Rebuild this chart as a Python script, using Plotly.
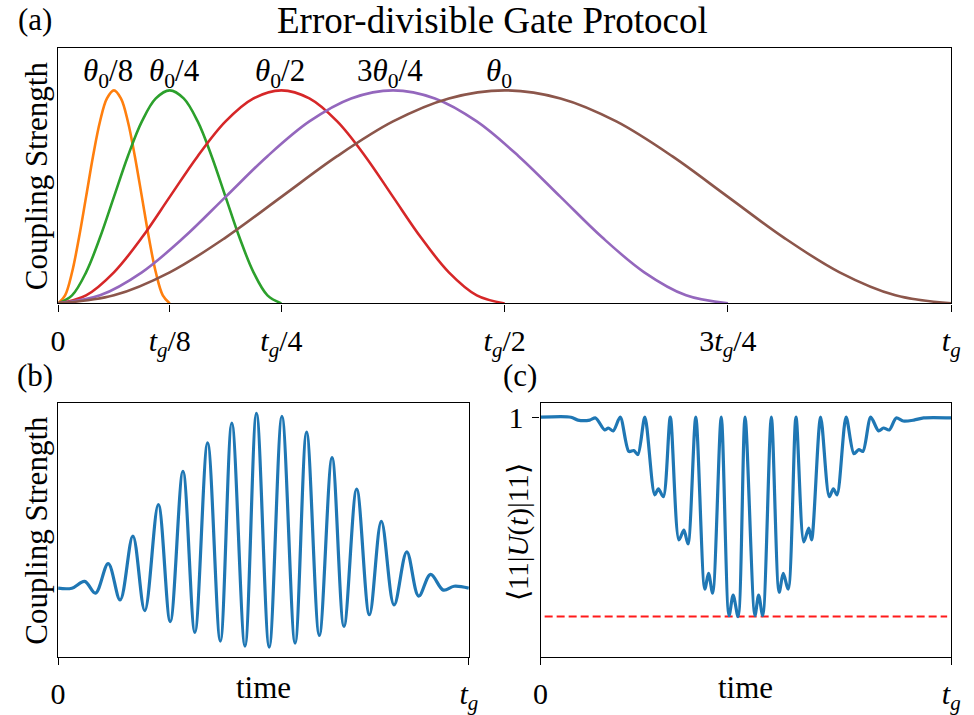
import plotly.graph_objects as go

# ---------------- data ----------------
# panel (a): pulse profiles (time in units of t_g, normalised coupling)
pulse_y = [0.0, 0.038, 0.146, 0.309, 0.5, 0.691, 0.854, 0.962, 1.0,
           0.962, 0.854, 0.691, 0.5, 0.309, 0.146, 0.038, 0.0]
x_theta8 = [0.0, 0.0078, 0.0156, 0.0234, 0.0313, 0.0391, 0.0469, 0.0547, 0.0625,
            0.0703, 0.0781, 0.0859, 0.0938, 0.1016, 0.1094, 0.1172, 0.125]
x_theta4 = [0.0, 0.0156, 0.0313, 0.0469, 0.0625, 0.0781, 0.0938, 0.1094, 0.125,
            0.1406, 0.1563, 0.1719, 0.1875, 0.2031, 0.2188, 0.2344, 0.25]
x_theta2 = [0.0, 0.0313, 0.0625, 0.0938, 0.125, 0.1563, 0.1875, 0.2188, 0.25,
            0.2813, 0.3125, 0.3438, 0.375, 0.4063, 0.4375, 0.4688, 0.5]
x_theta34 = [0.0, 0.0469, 0.0938, 0.1406, 0.1875, 0.2344, 0.2813, 0.3281, 0.375,
             0.4219, 0.4688, 0.5156, 0.5625, 0.6094, 0.6563, 0.7031, 0.75]
x_theta1 = [0.0, 0.0625, 0.125, 0.1875, 0.25, 0.3125, 0.375, 0.4375, 0.5,
            0.5625, 0.625, 0.6875, 0.75, 0.8125, 0.875, 0.9375, 1.0]
pulse_labels = ["<i>θ</i><sub>0</sub>/8", "<i>θ</i><sub>0</sub>/4", "<i>θ</i><sub>0</sub>/2",
                "3<i>θ</i><sub>0</sub>/4", "<i>θ</i><sub>0</sub>"]
pulse_colors = ["#ff7f0e", "#2ca02c", "#d62728", "#9467bd", "#8c564b"]
label_x = [0.056, 0.130, 0.249, 0.372, 0.494]
label_y = 1.083

a_tickvals = [0, 0.125, 0.25, 0.5, 0.75, 1.0]
a_ticktext = ["0", "<i>t</i><sub><i>g</i></sub>/8", "<i>t</i><sub><i>g</i></sub>/4",
              "<i>t</i><sub><i>g</i></sub>/2", "3<i>t</i><sub><i>g</i></sub>/4",
              "<i>t</i><sub><i>g</i></sub>"]

# panel (b): oscillating coupling (extrema)
b_time = [0.0, 0.0335, 0.0646, 0.0909, 0.122, 0.151, 0.182, 0.211, 0.244, 0.273,
          0.304, 0.333, 0.364, 0.395, 0.423, 0.455, 0.483, 0.514, 0.545, 0.577,
          0.605, 0.636, 0.667, 0.696, 0.727, 0.758, 0.787, 0.818, 0.849, 0.878,
          0.907, 0.938, 0.964, 1.0]
b_coupling = [0.0, 0.0, 0.039, -0.028, 0.140, -0.067, 0.298, -0.129, 0.478, -0.191,
              0.669, -0.253, 0.831, -0.303, 0.944, -0.331, 1.0, -0.337, 0.983, -0.315,
              0.893, -0.270, 0.747, -0.219, 0.567, -0.152, 0.382, -0.096, 0.208, -0.045,
              0.079, -0.011, 0.011, 0.0]

# panel (c): <11|U(t)|11>
c_time = [0.0, 0.074, 0.091, 0.120, 0.134, 0.156, 0.165, 0.177, 0.194,
          0.215, 0.227, 0.237, 0.254, 0.278, 0.287, 0.299, 0.316,
          0.337, 0.349, 0.359, 0.378, 0.400, 0.409, 0.419, 0.440,
          0.459, 0.469, 0.481, 0.498, 0.522, 0.531, 0.541, 0.562,
          0.581, 0.591, 0.603, 0.622, 0.641, 0.653, 0.660, 0.682,
          0.703, 0.713, 0.722, 0.744, 0.763, 0.775, 0.785, 0.804,
          0.823, 0.835, 0.849, 0.866, 0.883, 0.909, 0.933, 1.0]
c_overlap = [1.0, 1.0, 0.988, 0.988, 0.997, 0.947, 0.955, 0.943, 1.0,
             0.857, 0.861, 0.844, 1.0, 0.676, 0.701, 0.668, 1.0,
             0.488, 0.529, 0.471, 1.0, 0.283, 0.348, 0.266, 1.0,
             0.172, 0.258, 0.168, 1.0, 0.172, 0.258, 0.172, 1.0,
             0.270, 0.348, 0.283, 1.0, 0.480, 0.537, 0.488, 1.0,
             0.668, 0.701, 0.676, 1.0, 0.848, 0.865, 0.857, 1.0,
             0.943, 0.955, 0.947, 0.997, 0.984, 0.988, 0.997, 0.997]
c_bound_time = [0.01, 0.99]
c_bound_level = [0.168, 0.168]

# ---------------- figure ----------------
FONT = "Liberation Serif"
W, H = 974, 715

fig = go.Figure()

pulse_x = [x_theta8, x_theta4, x_theta2, x_theta34, x_theta1]
for xs, col in zip(pulse_x, pulse_colors):
    fig.add_trace(go.Scatter(x=xs, y=pulse_y, mode="lines",
                             line=dict(color=col, width=2.6, shape="spline", smoothing=1.0),
                             xaxis="x", yaxis="y", showlegend=False))

fig.add_trace(go.Scatter(x=b_time, y=b_coupling, mode="lines",
                         line=dict(color="#1f77b4", width=3.2, shape="spline", smoothing=1.0),
                         xaxis="x2", yaxis="y2", showlegend=False))

fig.add_trace(go.Scatter(x=c_bound_time, y=c_bound_level, mode="lines",
                         line=dict(color="#ff1a1a", width=2, dash="8px,4px"),
                         xaxis="x3", yaxis="y3", showlegend=False))
fig.add_trace(go.Scatter(x=c_time, y=c_overlap, mode="lines",
                         line=dict(color="#1f77b4", width=3.2, shape="spline", smoothing=0.8),
                         xaxis="x3", yaxis="y3", showlegend=False))

def px_x(p):
    return p / W

def px_y(p):
    return 1 - p / H

axis_common = dict(showline=True, mirror=True, linecolor="black", linewidth=1.3,
                   showgrid=False, zeroline=False,
                   tickfont=dict(family=FONT, size=30, color="black"))

fig.update_layout(
    width=W, height=H,
    margin=dict(l=0, r=0, t=0, b=0),
    paper_bgcolor="white", plot_bgcolor="white",
    xaxis=dict(domain=[px_x(51), px_x(960)], range=[0, 1], anchor="y",
               tickvals=a_tickvals, ticktext=a_ticktext,
               ticks="outside", ticklen=7, tickwidth=1.3, tickcolor="black",
               ticklabelstandoff=3, **axis_common),
    yaxis=dict(domain=[px_y(307), px_y(47)], range=[0, 1.198], anchor="x",
               showticklabels=False, ticks="", **axis_common),
    xaxis2=dict(domain=[px_x(51), px_x(469)], range=[0, 1], anchor="y2",
                tickvals=[0, 1], ticktext=["0", "<i>t</i><sub><i>g</i></sub>"],
                ticks="outside", ticklen=7, tickwidth=1.3, tickcolor="black",
                ticklabelstandoff=3, **axis_common),
    yaxis2=dict(domain=[px_y(667), px_y(408)], range=[-0.393, 1.062], anchor="x2",
                showticklabels=False, ticks="", **axis_common),
    xaxis3=dict(domain=[px_x(542), px_x(960)], range=[0, 1], anchor="y3",
                tickvals=[0, 1], ticktext=["0", "<i>t</i><sub><i>g</i></sub>"],
                ticks="outside", ticklen=7, tickwidth=1.3, tickcolor="black",
                ticklabelstandoff=3, **axis_common),
    yaxis3=dict(domain=[px_y(667), px_y(408)], range=[0, 1.061], anchor="x3",
                tickvals=[1], ticktext=["1"],
                ticks="outside", ticklen=7, tickwidth=1.3, tickcolor="black",
                ticklabelstandoff=3, **axis_common),
)

annots = []
for lx, txt in zip(label_x, pulse_labels):
    annots.append(dict(x=lx, y=label_y, xref="x", yref="y", text=txt, showarrow=False,
                       xanchor="center", yanchor="middle",
                       font=dict(family=FONT, size=31, color="black")))

def paper_text(x, y, txt, size=30, angle=0):
    return dict(x=px_x(x), y=px_y(y), xref="paper", yref="paper", text=txt,
                showarrow=False, xanchor="center", yanchor="middle", textangle=angle,
                font=dict(family=FONT, size=size, color="black"))

annots += [
    paper_text(493, 19, "Error-divisible Gate Protocol", size=37),
    paper_text(27, 18, "(a)", size=31),
    paper_text(27, 380, "(b)", size=31),
    paper_text(521, 380, "(c)", size=31),
    paper_text(29, 177, "Coupling Strength", size=31, angle=-90),
    paper_text(29, 538, "Coupling Strength", size=31, angle=-90),
    paper_text(519, 540, "⟨11|<i>U</i>(<i>t</i>)|11⟩", size=29, angle=-90),
    paper_text(260, 698, "time", size=31),
    paper_text(751, 698, "time", size=31),
]
fig.update_layout(annotations=annots)

fig.write_html("out.html", config={"displayModeBar": False},
               post_script="document.body.style.margin='0';document.body.style.overflow='hidden';")
